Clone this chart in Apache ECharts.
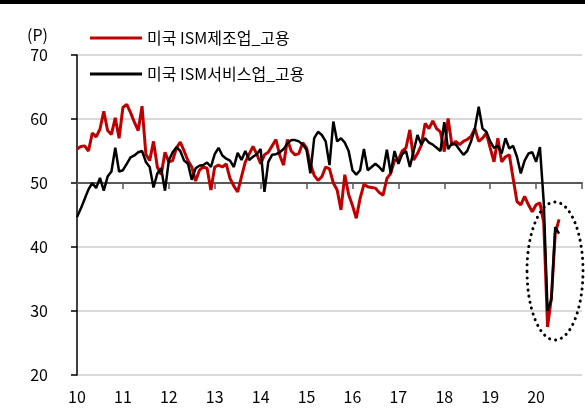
<!DOCTYPE html>
<html>
<head>
<meta charset="utf-8">
<script src="https://cdn.jsdelivr.net/npm/echarts@6/dist/echarts.min.js"></script>
<style>
    html, body { margin: 0; padding: 0; background: #fff; }
    #chart { width: 585px; height: 416px; }
</style>
</head>
<body>
<div id="chart"></div>
<script>
    // 월별 카테고리 (2010-01 ~ 2021-01, 마지막은 축 끝 눈금용)
    var months = []
    for (var y = 2010; y <= 2020; y++) {
        for (var m = 1; m <= 12; m++) {
            months.push(y + '-' + m)
        }
    }
    months.push('2021-1')

    var yearLabels = ['10', '11', '12', '13', '14', '15', '16', '17', '18', '19', '20']

    // 미국 ISM제조업_고용
    var mfg = [
        55.3, 55.7, 55.8, 55.0, 57.8, 57.2, 58.4, 61.2, 58.2, 57.6, 60.2, 57.0,
        61.8, 62.3, 61.0, 59.5, 58.2, 62.0, 54.5, 53.5, 56.5, 52.5, 51.3, 54.8,
        53.3, 53.5, 55.5, 56.4, 55.0, 53.5, 52.5, 50.3, 52.0, 52.5, 52.3, 48.9,
        52.5, 52.8, 52.5, 53.0, 50.7, 49.5, 48.6, 51.0, 53.3, 54.5, 55.7, 54.5,
        53.0, 54.4, 54.8, 55.8, 56.8, 54.3, 52.8, 56.8, 55.0, 54.4, 54.6, 56.3,
        55.5, 53.0, 51.2, 50.4, 51.0, 52.5, 52.2, 50.0, 48.9, 45.8, 51.3, 48.2,
        46.5, 44.5, 47.6, 49.8, 49.4, 49.3, 49.2, 48.5, 48.1, 50.7, 51.5, 53.5,
        53.6, 55.0, 55.5, 58.3, 53.6, 54.6, 55.9, 59.3, 58.5, 59.7, 58.5, 58.0,
        54.9, 60.1, 55.9, 56.5, 56.0, 56.5, 56.8, 57.3, 58.5, 56.5, 57.0, 57.8,
        55.5, 53.3, 57.0, 53.3, 54.1, 54.4, 50.7, 47.1, 46.6, 47.9, 46.6, 45.5,
        46.6, 46.9, 43.8, 27.5, 32.1, 42.1, 44.3
    ]

    // 미국 ISM서비스업_고용
    var svc = [
        44.7, 46.0, 47.5, 49.0, 50.0, 49.2, 50.8, 48.8, 51.0, 51.8, 55.5, 51.8,
        52.0, 53.0, 54.0, 54.3, 54.8, 55.0, 53.3, 52.5, 49.3, 51.5, 52.3, 48.8,
        53.5, 54.8, 55.6, 55.0, 53.5, 53.0, 50.5, 52.3, 52.7, 52.8, 53.2, 52.5,
        54.5, 55.5, 54.3, 53.8, 53.5, 52.5, 54.7, 53.6, 55.0, 53.6, 54.1, 54.5,
        55.3, 48.6, 53.3, 54.4, 54.5, 54.8, 55.3, 56.2, 56.7, 56.7, 56.5, 56.0,
        55.2, 51.5, 57.0, 58.0, 57.5, 56.5, 52.8, 59.6, 56.5, 57.0, 56.3, 55.0,
        52.0, 51.3, 52.0, 55.3, 52.0, 52.5, 53.0, 52.5, 51.8, 55.2, 51.5, 55.0,
        53.0, 54.5, 55.0, 52.5, 55.0, 57.5, 56.0, 57.0, 56.3, 56.0, 55.5, 55.0,
        59.5, 55.3, 56.2, 56.0, 55.2, 54.4, 55.0, 56.5, 58.5, 61.9, 58.5, 58.0,
        56.5, 55.5, 55.8, 54.6, 57.0, 55.4, 55.8, 54.1, 51.5, 53.5, 54.6, 54.8,
        53.3, 55.6, 47.0, 30.0, 31.8, 43.1, 42.1
    ]

    var font = '"Noto Sans CJK KR", "Noto Sans", sans-serif'

    var chart = echarts.init(document.getElementById('chart'))
    chart.setOption({
        animation: false,
        textStyle: { fontFamily: font },
        legend: {
            orient: 'vertical',
            left: 85,
            top: 25,
            icon: 'rect',
            itemWidth: 52,
            itemHeight: 3,
            itemGap: 20,
            textStyle: { fontSize: 16, color: '#000', fontFamily: font },
            data: ['미국 ISM제조업_고용', '미국 ISM서비스업_고용']
        },
        grid: [
            { left: 77, top: 55, width: 505, height: 320 },
            { left: 77, top: 55, width: 505, height: 128 }
        ],
        xAxis: [
            {
                type: 'category',
                gridIndex: 0,
                data: months,
                boundaryGap: false,
                axisLine: { show: false },
                axisTick: { show: false },
                axisLabel: {
                    interval: function (i) { return i % 12 === 0 && i < 132 },
                    formatter: function (v, i) { return yearLabels[i / 12] },
                    fontSize: 16,
                    color: '#000',
                    margin: 14
                },
                splitLine: { show: false }
            },
            {
                // 50선 위의 연도 눈금
                type: 'category',
                gridIndex: 1,
                data: months,
                boundaryGap: false,
                axisLine: { show: true, lineStyle: { color: '#595959', width: 2 } },
                axisTick: {
                    show: true,
                    interval: function (i) { return i % 12 === 0 },
                    length: 6,
                    lineStyle: { color: '#595959', width: 1.5 }
                },
                axisLabel: { show: false },
                splitLine: { show: false }
            }
        ],
        yAxis: [
            {
                type: 'value',
                gridIndex: 0,
                min: 20,
                max: 70,
                interval: 10,
                name: '(P)',
                nameLocation: 'end',
                nameGap: 12,
                nameTextStyle: { fontSize: 16, color: '#000', align: 'left', padding: [0, 0, 0, -50] },
                axisLine: { show: true, lineStyle: { color: '#000', width: 1.5 } },
                axisTick: { show: true, length: 6, lineStyle: { color: '#000', width: 1.5 } },
                axisLabel: { fontSize: 16, color: '#000', margin: 29 },
                splitLine: { lineStyle: { color: '#d9d9d9', width: 2 } }
            },
            {
                type: 'value',
                gridIndex: 1,
                min: 50,
                max: 70,
                show: false
            }
        ],
        series: [
            {
                name: '미국 ISM제조업_고용',
                type: 'line',
                data: mfg,
                symbol: 'none',
                lineStyle: { color: '#c00000', width: 3 },
                itemStyle: { color: '#c00000' }
            },
            {
                name: '미국 ISM서비스업_고용',
                type: 'line',
                data: svc,
                symbol: 'none',
                lineStyle: { color: '#000', width: 2.5 },
                itemStyle: { color: '#000' }
            }
        ],
        graphic: [
            {
                type: 'rect',
                shape: { x: 0, y: 0, width: 585, height: 4 },
                style: { fill: '#000' }
            },
            {
                type: 'ellipse',
                z: 100,
                shape: { cx: 555, cy: 271, rx: 28, ry: 69 },
                style: { fill: null, stroke: '#000', lineWidth: 3, lineDash: [0.1, 6], lineCap: 'round' }
            }
        ]
    })
</script>
</body>
</html>
